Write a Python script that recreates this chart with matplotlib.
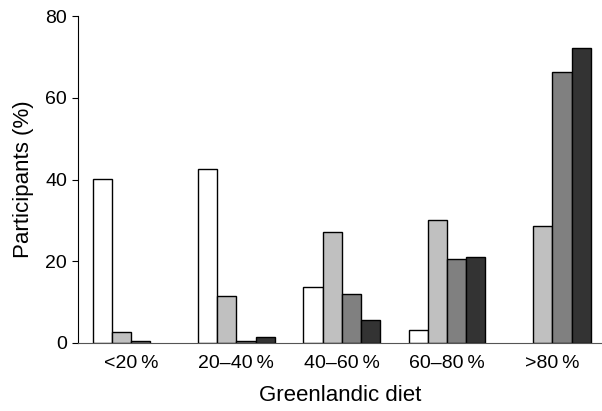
import numpy as np
import matplotlib
matplotlib.use("Agg")
import matplotlib.pyplot as plt

plt.rcParams['font.family'] = ['Liberation Sans', 'DejaVu Sans']

# Diet categories and the four series (participants, %)
categories = ["<20\u2009%", "20\u201340\u2009%", "40\u201360\u2009%", "60\u201380\u2009%", ">80\u2009%"]
series_1 = [40.2, 42.6, 13.7, 3.1, 0.0]
series_2 = [2.7, 11.4, 27.2, 30.0, 28.7]
series_3 = [0.6, 0.6, 11.9, 20.6, 66.2]
series_4 = [0.0, 1.5, 5.6, 21.0, 72.1]
colors = ["white", "#c0c0c0", "#808080", "#333333"]

fig = plt.figure(figsize=(6.02, 4.11), dpi=100)
ax = fig.add_axes([0.130, 0.1655, 0.870, 0.7955])

x = np.arange(len(categories))
w = 0.182
for i, (vals, c) in enumerate(zip([series_1, series_2, series_3, series_4], colors)):
    vals = np.array(vals)
    keep = vals > 0  # empty cells have no bar in the original
    ax.bar(x[keep] + (i - 1.5) * w, vals[keep], width=w, color=c,
           edgecolor="black", linewidth=1.0)

ax.set_xlim(-0.5, 4.47)
ax.set_ylim(0, 80)
ax.set_yticks([0, 20, 40, 60, 80])
ax.set_xticks(x)
ax.set_xticklabels(categories)
ax.tick_params(axis='x', length=0, pad=9, labelsize=14)
ax.tick_params(axis='y', length=4, direction='out', labelsize=14, pad=4)
ax.spines['top'].set_visible(False)
ax.spines['right'].set_visible(False)
ax.spines['bottom'].set_color('#555555')
ax.set_xlabel("Greenlandic diet", fontsize=16, labelpad=9)
ax.set_ylabel("Participants (%)", fontsize=16, labelpad=8)

fig.savefig("out.png", dpi=100)
